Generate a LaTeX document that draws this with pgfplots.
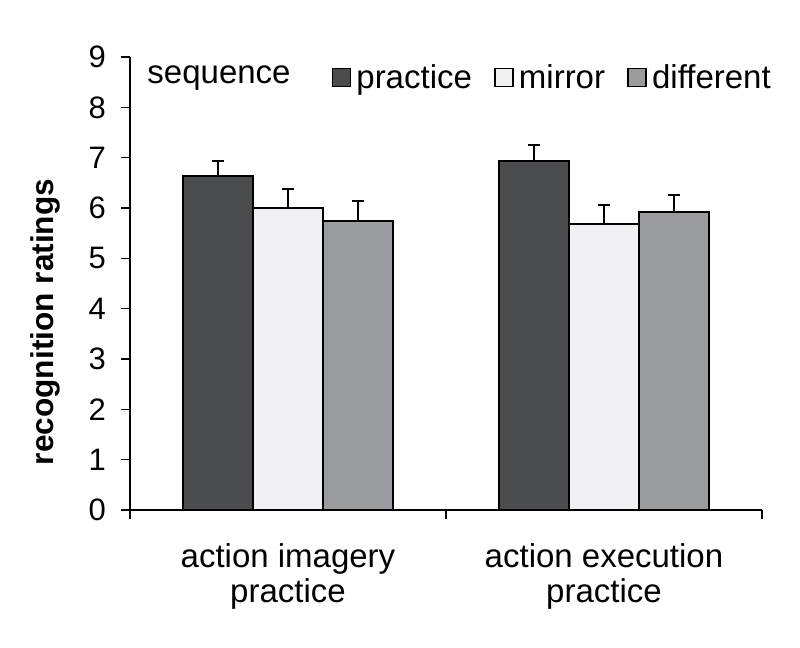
\documentclass[border=0pt]{standalone}
\usepackage{pgfplots}
\pgfplotsset{compat=1.18}
\usepackage{fontspec}
\setmainfont{Liberation Sans}
\definecolor{cpract}{HTML}{4B4C4E}
\definecolor{cmirr}{HTML}{F1F1F3}
\definecolor{cdiff}{HTML}{9A9B9E}
\begin{document}
\begin{tikzpicture}
\path[use as bounding box] (0,0) rectangle (400pt,324pt);
\begin{axis}[
  at={(65pt,69pt)}, anchor=south west,
  width=316pt, height=226.5pt, scale only axis,
  /pgf/number format/assume math mode=true,
  font=\fontsize{16.5}{17}\selectfont,
  ymin=0, ymax=9, ytick={0,...,9},
  yticklabel style={font=\fontsize{15.5}{17}\selectfont, xshift=-4pt},
  xmin=0, xmax=2, xtick={0,1,2},
  xticklabels={action imagery\\practice, action execution\\practice},
  x tick label as interval,
  xticklabel style={align=center, yshift=-9pt, font=\fontsize{16.5}{17.5}\selectfont},
  axis x line*=bottom, axis y line*=left,
  axis line style={-, line width=0.75pt},
  tick style={line width=0.75pt, black},
  tick align=outside, major tick length=4.5pt,
  ylabel={\fontsize{15.8}{18}\selectfont\bfseries recognition ratings},
  ylabel style={at={(axis description cs:-0.134,0.415)}, anchor=center},
  ybar=0pt, bar width=0.2215,
  legend columns=-1,
  legend style={draw=none, fill=none, inner sep=0pt, at={(axis description cs:0.2864,0.954)}, anchor=west,
    font=\fontsize{16.5}{17}\selectfont, column sep=0pt, nodes={inner xsep=1pt}},
  legend image code/.code={\path (-10pt,0) (10.5pt,0); \draw[#1, line width=0.6pt] (0pt,-4.5pt) rectangle (9pt,4.5pt);},
  error bars/y dir=plus, error bars/y explicit,
  error bars/error bar style={line width=1pt, black},
  error bars/error mark options={rotate=90, mark size=3pt, line width=1pt, black},
]
\addplot[fill=cpract, draw=black, line width=1pt] coordinates {(0.5,6.64) +- (0,0.29) (1.5,6.93) +- (0,0.32)};
\addplot[fill=cmirr, draw=black, line width=1pt] coordinates {(0.5,6.00) +- (0,0.37) (1.5,5.68) +- (0,0.37)};
\addplot[fill=cdiff, draw=black, line width=1pt] coordinates {(0.5,5.75) +- (0,0.39) (1.5,5.93) +- (0,0.33)};
\legend{practice, mirror, different}
\node[anchor=west, inner sep=0pt, font=\fontsize{16.5}{17}\selectfont] at (axis description cs:0.027,0.954) {sequence};
\end{axis}
\end{tikzpicture}
\end{document}
